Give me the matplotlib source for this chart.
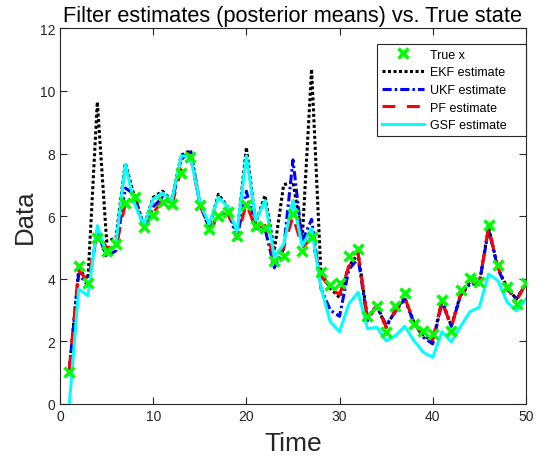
import numpy as np
import matplotlib
matplotlib.use('Agg')
import matplotlib.pyplot as plt

plt.rcParams['font.family'] = ['Liberation Sans', 'DejaVu Sans']

# time steps
t = np.arange(1, 51)

true_x = [1.02, 4.42, 3.85, 5.29, 4.88, 5.11, 6.43, 6.6, 5.64, 6.05,
          6.44, 6.39, 7.38, 7.88, 6.37, 5.59, 6.0, 6.12, 5.38, 6.36,
          5.7, 5.62, 4.58, 4.74, 6.07, 4.9, 5.33, 4.21, 3.8, 3.87,
          4.72, 4.96, 2.8, 3.14, 2.29, 3.14, 3.55, 2.56, 2.34, 2.24,
          3.33, 2.34, 3.65, 4.03, 3.91, 5.72, 4.44, 3.73, 3.19, 3.87]

ekf_est = [1.1, 4.3, 4.0, 9.65, 5.2, 5.3, 7.7, 6.6, 5.7, 6.6,
           6.8, 6.5, 7.95, 8.1, 6.4, 5.65, 6.7, 6.3, 5.4, 8.2,
           5.8, 6.66, 4.9, 7.0, 7.1, 5.3, 10.7, 4.2, 3.7, 3.4,
           4.4, 4.8, 2.75, 3.15, 2.45, 3.0, 3.4, 2.6, 2.2, 2.0,
           3.3, 2.5, 3.5, 3.9, 3.85, 5.65, 4.35, 3.7, 3.35, 3.85]

ukf_est = [1.1, 4.15, 3.78, 5.5, 4.7, 4.9, 6.9, 6.7, 5.6, 6.3,
           6.6, 6.4, 7.8, 8.1, 6.4, 5.6, 6.0, 6.2, 5.3, 6.8,
           5.6, 5.6, 4.35, 4.95, 7.8, 5.2, 5.9, 3.7, 3.0, 2.8,
           4.3, 4.65, 2.66, 3.14, 2.52, 2.95, 3.35, 2.59, 2.13, 1.92,
           3.25, 2.48, 3.46, 3.83, 3.83, 5.59, 4.31, 3.67, 3.35, 3.83]

pf_est = [1.12, 4.26, 3.94, 5.48, 5.0, 5.0, 6.4, 6.5, 5.6, 6.1,
          6.5, 6.35, 7.5, 7.9, 6.4, 5.6, 5.9, 6.1, 5.3, 6.4,
          5.6, 5.7, 4.6, 5.0, 6.0, 5.0, 5.3, 4.1, 3.7, 3.5,
          4.4, 4.8, 2.7, 3.15, 2.45, 3.0, 3.4, 2.6, 2.2, 2.05,
          3.3, 2.45, 3.5, 3.9, 3.85, 5.65, 4.35, 3.7, 3.3, 3.85]

gsf_est = [0.0, 3.67, 3.46, 5.7, 4.79, 5.11, 7.65, 6.4, 5.7, 6.55,
           6.74, 6.5, 7.93, 7.9, 6.45, 5.75, 6.6, 6.3, 5.5, 7.93,
           5.86, 6.5, 4.7, 5.1, 6.5, 5.05, 5.6, 3.73, 2.63, 2.31,
           3.2, 3.57, 2.4, 2.45, 2.02, 2.18, 2.48, 2.02, 1.65, 1.49,
           2.31, 1.99, 2.48, 2.95, 3.09, 4.15, 3.94, 3.25, 2.98, 3.35]

axis_col = '#262626'

fig = plt.figure(figsize=(5.41, 4.60), dpi=100)
ax = fig.add_axes([0.111, 0.1196, 0.861, 0.8165])

lw = 2.2
ax.plot(t, true_x, 'x', color=(0, 1, 0), markersize=7, markeredgewidth=2.5,
        label='True x', zorder=6)
ax.plot(t, ekf_est, color='k', lw=lw, dashes=(1, 0.8), label='EKF estimate', zorder=2)
ax.plot(t, ukf_est, color='b', lw=lw, dashes=(3, 1, 0.8, 1), label='UKF estimate', zorder=3)
ax.plot(t, pf_est, color='r', lw=lw, dashes=(4.2, 3.8), label='PF estimate', zorder=4)
ax.plot(t, gsf_est, '-', color=(0, 1, 1), lw=lw, label='GSF estimate', zorder=5)

ax.set_xlim(0, 50)
ax.set_ylim(0, 12)
ax.set_xticks(range(0, 51, 10))
ax.set_yticks(range(0, 13, 2))
ax.tick_params(direction='in', length=5, width=0.8, colors=axis_col,
               labelsize=10, top=True, right=True)
for s in ax.spines.values():
    s.set_color(axis_col)
    s.set_linewidth(0.8)

ax.set_title('Filter estimates (posterior means) vs. True state',
             fontsize=15.7, color='k', pad=5)
ax.set_xlabel('Time', fontsize=19, color=axis_col, labelpad=6)
ax.set_ylabel('Data', fontsize=18.5, color=axis_col, labelpad=2)

leg = ax.legend(loc='upper left', mode='expand', fontsize=9, frameon=True,
                fancybox=False, edgecolor=axis_col, framealpha=1,
                handlelength=3.35, borderpad=0.4, labelspacing=0.45,
                handletextpad=0.45, borderaxespad=0,
                bbox_to_anchor=(0.681, 0.709, 0.3185, 0.25))
leg.get_frame().set_linewidth(0.8)

fig.savefig('out.png', dpi=100)
